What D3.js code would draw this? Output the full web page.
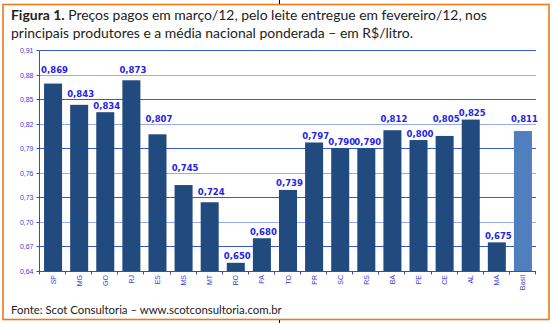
<!DOCTYPE html>
<html><head><meta charset="utf-8">
<script src="https://cdn.jsdelivr.net/npm/d3@7"></script>
<style>
html,body{margin:0;padding:0;background:#fff;}
svg{display:block;}
</style>
</head><body>
<svg id="c" width="552" height="323"></svg>
<script>
const categories = ["SP","MG","GO","RJ","ES","MS","MT","RO","PA","TO","PR","SC","RS","BA","PE","CE","AL","MA","Basil"];
const values = [0.869,0.843,0.834,0.873,0.807,0.745,0.724,0.650,0.680,0.739,0.797,0.790,0.790,0.812,0.800,0.805,0.825,0.675,0.811];
const yTickValues = [0.64,0.67,0.70,0.73,0.76,0.79,0.82,0.85,0.88,0.91];
const titleBold = "Figura 1.";
const titleLine1 = " Preços pagos em março/12, pelo leite entregue em fevereiro/12, nos";
const titleLine2 = "principais produtores e a média nacional ponderada – em R$/litro.";
const sourceText = "Fonte: Scot Consultoria – www.scotconsultoria.com.br";
const highlightCategory = "Basil";

(function(){
const svg = d3.select("#c");
const pLeft = 40, pRight = 536, pTop = 50, pBottom = 271;

// frame
svg.append("rect").attr("x",3).attr("y",4.5).attr("width",546).attr("height",315)
  .attr("fill","none").attr("stroke","#f07818").attr("stroke-width",1.6);
svg.append("line").attr("x1",279.5).attr("x2",279.5).attr("y1",0).attr("y2",4)
  .attr("stroke","#000").attr("stroke-width",1);
svg.append("line").attr("x1",279.5).attr("x2",279.5).attr("y1",320).attr("y2",323)
  .attr("stroke","#000").attr("stroke-width",1);

function fit(sel, target){
  const node = sel.node();
  const fs = parseFloat(sel.attr("font-size"));
  const w = node.getComputedTextLength();
  sel.attr("font-size", fs * target / w);
}
const fontTitle = "Lato, 'Open Sans', sans-serif";
const t1 = svg.append("text").attr("x",11).attr("y",20).attr("font-family",fontTitle)
  .attr("font-size",14).attr("fill","#222");
t1.append("tspan").attr("font-weight","bold").text(titleBold);
t1.append("tspan").text(titleLine1);
fit(t1, 476);
svg.append("text").attr("x",11).attr("y",38).attr("font-family",fontTitle)
  .attr("font-size",t1.attr("font-size")).attr("fill","#222").text(titleLine2);

const x = d3.scaleBand().domain(categories).range([pLeft,pRight]).paddingInner(0.31).paddingOuter(0.155);
const y = d3.scaleLinear().domain([0.64,0.91]).range([pBottom,pTop]);

// gridlines
svg.append("g").selectAll("line").data(yTickValues.slice(1)).join("line")
  .attr("x1",pLeft).attr("x2",pRight)
  .attr("y1",d=>Math.round(y(d))+0.5).attr("y2",d=>Math.round(y(d))+0.5)
  .attr("stroke",(d,i)=> ((yTickValues.length-2-i)%2===0) ? "#3558d8" : "#9aaaf0")
  .attr("stroke-width",1);

// y axis
const fmt2 = v => d3.format(".2f")(v).replace(".",",");
const yAxis = d3.axisLeft(y).tickValues(yTickValues).tickFormat(fmt2).tickSize(3).tickPadding(3);
const gy = svg.append("g").attr("transform",`translate(${pLeft-0.5},0)`).call(yAxis);
gy.selectAll("path,line").attr("stroke","#3548d8");
gy.select(".domain").attr("d",`M0,${Math.round(y(0.91))+0.5}V${pBottom+0.5}`);
gy.selectAll("text").attr("font-family","Arial, 'Liberation Sans', sans-serif").attr("font-size",7)
  .attr("fill","#3a3aea");
gy.selectAll(".tick").attr("transform",d=>`translate(0,${Math.round(y(d))+0.5})`);

// bars
svg.append("g").selectAll("rect").data(categories).join("rect")
  .attr("x",d=>x(d)).attr("width",x.bandwidth())
  .attr("y",(d,i)=>y(values[i])).attr("height",(d,i)=>pBottom - y(values[i]))
  .attr("fill",d=> d===highlightCategory ? "#4f80bd" : "#214a7e");

// x axis
const gx = svg.append("g");
gx.append("line").attr("x1",pLeft-0.5).attr("x2",pRight).attr("y1",pBottom+0.5).attr("y2",pBottom+0.5)
  .attr("stroke","#3548d8");
const step = x.step();
gx.selectAll("line.tk").data(d3.range(categories.length+1)).join("line").attr("class","tk")
  .attr("x1",i=>Math.round(pLeft + i*step)-0.5).attr("x2",i=>Math.round(pLeft + i*step)-0.5)
  .attr("y1",pBottom).attr("y2",pBottom+3.5).attr("stroke","#3548d8");
gx.selectAll("text").data(categories).join("text")
  .attr("transform",d=>`translate(${x(d)+x.bandwidth()/2+2.5},${pBottom+4}) rotate(-90)`)
  .attr("text-anchor","end")
  .attr("font-family","Arial, 'Liberation Sans', sans-serif").attr("font-size",7)
  .attr("fill","#3a3ae0").text(d=>d);

// value labels
const fmt3 = v => d3.format(".3f")(v).replace(".",",");
function labelY(v){
  const grid = yTickValues.find(g => g - v > 0.001);
  if (grid !== undefined && grid - v <= 0.0155) return Math.round(y(grid)) - 2;
  return y(v) - 3.5;
}
svg.append("g").selectAll("text").data(categories).join("text")
  .attr("x",d=>x(d)+x.bandwidth()/2+1.5)
  .attr("y",(d,i)=>labelY(values[i]))
  .attr("text-anchor","middle")
  .attr("font-family","'DejaVu Sans', Verdana, sans-serif").attr("font-weight","bold")
  .attr("font-size",8.5).attr("fill","#2424e8")
  .text((d,i)=>fmt3(values[i]));

// source
const s = svg.append("text").attr("x",11).attr("y",314).attr("font-family",fontTitle)
  .attr("font-size",12).attr("fill","#222").text(sourceText);
fit(s, 271);
})();
</script>
</body></html>
